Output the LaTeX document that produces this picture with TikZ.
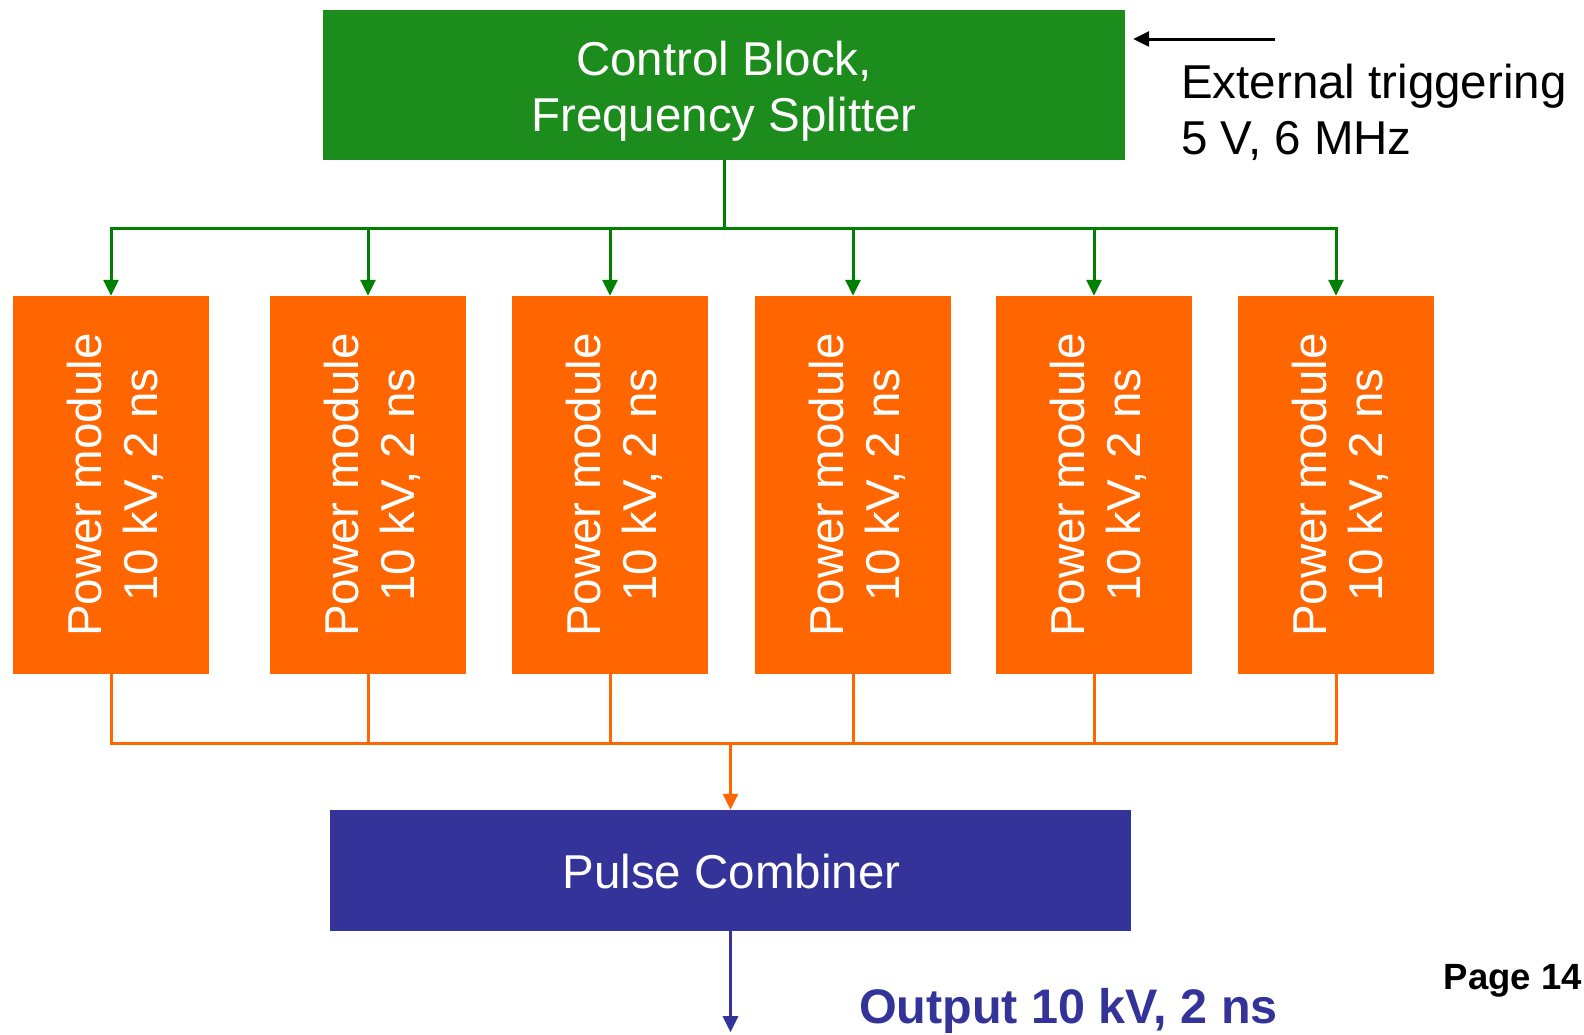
\documentclass[tikz,border=0pt]{standalone}
\usepackage{fontspec}
\setmainfont{Liberation Sans}
\usepackage{tikz}
\usetikzlibrary{arrows.meta,positioning,calc}
\usepackage{xcolor}
\definecolor{ctrlgreen}{RGB}{28,140,28}
\definecolor{linegreen}{RGB}{0,128,0}
\definecolor{pmorange}{RGB}{255,102,0}
\definecolor{combblue}{RGB}{51,51,153}

\begin{document}
\begin{tikzpicture}[x=1pt,y=-1pt,
    font=\fontsize{47.5}{56}\selectfont,
    block/.style={inner sep=0pt,text=white,align=center},
    tip/.style={-{Triangle[length=16pt,width=15pt]}},
    gline/.style={draw=linegreen,line width=3pt},
    oline/.style={draw=pmorange,line width=3pt}]

  \useasboundingbox (0,0) rectangle (1584,1034);

  \node[block,fill=ctrlgreen,minimum width=802pt,minimum height=150pt] (ctrl) at (724,85) {};
  \node[block] (ctrltext) at ($(ctrl.center)+(0,6)$) {Control Block,\\Frequency Splitter};

  \foreach \x [count=\i] in {111,368,610,853,1094,1336}
    \node[block,fill=pmorange,minimum width=196pt,minimum height=378pt] (pm\i) at (\x,485) {};
  \foreach \i in {1,...,6}
    \node[block,rotate=90] (pmtext\i) at ($(pm\i.center)+(4,0)$) {Power module\\10 kV, 2 ns};

  \node[block,fill=combblue,minimum width=801pt,minimum height=121pt] (comb) at (730.5,870.5) {};
  \node[block] (combtext) at ($(comb.center)+(1,1.5)$) {Pulse Combiner};

  % trigger input
  \coordinate (trig) at (1275,39);
  \draw[tip,line width=3pt,shorten >=8pt] (trig) -- (trig -| ctrl.east);
  \node[anchor=west,inner sep=0pt,align=left] (ext) at (1181,112.5)
    {External triggering\\5 V, 6 MHz};

  % splitter to modules
  \draw[gline] (ctrl.south) -- ++(0,68) coordinate (gbus);
  \draw[gline,line cap=rect] (gbus -| pm1.north) -- (gbus -| pm6.north);
  \foreach \i in {1,...,6}
    \draw[gline,tip] (gbus -| pm\i.north) -- (pm\i.north);

  % modules to combiner
  \coordinate (obus) at (0,743);
  \foreach \i in {1,...,6}
    \draw[oline] (pm\i.south) -- (obus -| pm\i.south);
  \draw[oline,line cap=rect] (obus -| pm1.south) -- (obus -| pm6.south);
  \draw[oline,tip] (obus -| comb.north) -- (comb.north);

  % output
  \coordinate (outend) at ($(comb.south)+(0,101)$);
  \draw[draw=combblue,line width=3pt,tip] (comb.south) -- (outend);
  \node[anchor=west,inner sep=0pt,text=combblue,font=\fontsize{48.5}{56}\selectfont\bfseries] (out) at (859,1011)
    {Output 10 kV, 2 ns};
  \node[anchor=east,inner sep=0pt,font=\fontsize{36.5}{44}\selectfont\bfseries] (page) at (1582,981) {Page 14};

\end{tikzpicture}
\end{document}
